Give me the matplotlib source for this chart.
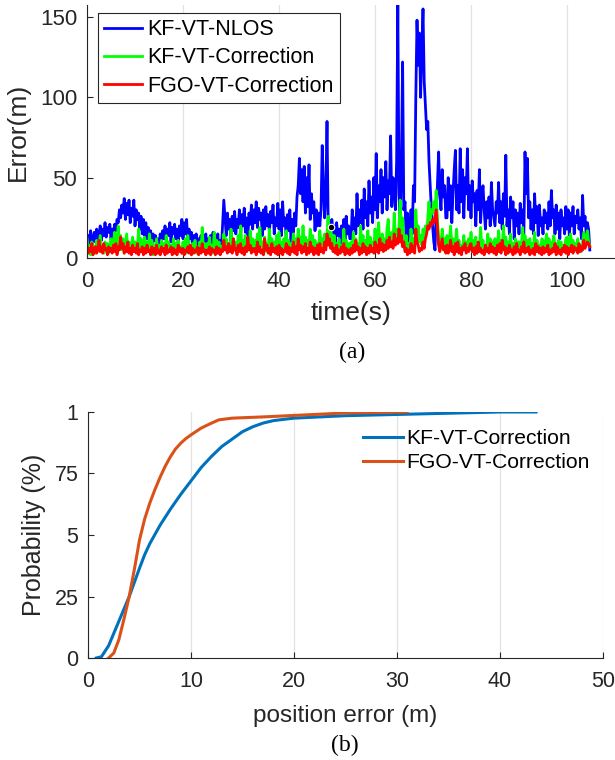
"""Genera la figura de error temporal (a) y la CDF del error de posicion (b)."""

import matplotlib

matplotlib.use("Agg")

import matplotlib.pyplot as plt
import numpy as np


# ── Datos: panel (a), muestreo cada 0.25 s ───────────────────────────────────

PASO_TIEMPO = 0.25

ERROR_KF_NLOS = [
    5, 14, 9, 17, 8, 12, 16, 10, 18, 12, 15, 20, 11, 18, 14, 22, 13, 19, 16, 21,
    12, 18, 15, 21, 17, 24, 22, 30, 25, 33, 28, 37, 24, 34, 27, 36, 22, 31, 26, 36,
    20, 30, 24, 28, 18, 26, 15, 24, 14, 22, 12, 19, 10, 17, 8, 15, 11, 14, 6, 12,
    4, 15, 9, 17, 12, 20, 11, 18, 14, 22, 10, 19, 15, 21, 12, 18, 9, 20, 14, 24,
    12, 22, 15, 24, 9, 18, 12, 16, 7, 14, 10, 15, 5, 12, 8, 14, 6, 11, 9, 15,
    4, 12, 8, 14, 6, 16, 10, 13, 7, 15, 3, 11, 6, 21, 36, 25, 14, 28, 18, 24,
    12, 26, 17, 29, 15, 24, 19, 30, 14, 27, 20, 31, 16, 25, 12, 28, 21, 33, 18, 30,
    22, 35, 19, 31, 24, 28, 14, 30, 18, 32, 20, 27, 16, 29, 22, 33, 15, 25, 20, 34,
    18, 30, 14, 35, 20, 25, 12, 27, 17, 30, 10, 24, 16, 28, 20, 38, 45, 62, 40, 55,
    35, 57, 28, 50, 32, 58, 24, 40, 28, 35, 17, 30, 20, 28, 20, 30, 70, 45, 25, 40,
    85, 20, 15, 12, 24, 16, 20, 10, 22, 14, 18, 8, 20, 12, 24, 10, 26, 15, 20, 12,
    12, 30, 18, 25, 15, 40, 20, 30, 22, 36, 18, 43, 25, 35, 20, 48, 28, 38, 22, 50,
    30, 65, 25, 45, 35, 55, 28, 50, 38, 60, 30, 48, 40, 76, 32, 50, 45, 30, 60, 158,
    40, 20, 60, 122, 30, 35, 10, 28, 5, 20, 30, 15, 45, 35, 100, 148, 120, 140, 100, 130,
    155, 110, 95, 80, 85, 60, 45, 30, 20, 10, 5, 30, 45, 66, 40, 30, 55, 38, 45, 25,
    25, 50, 30, 45, 22, 40, 55, 67, 30, 45, 28, 68, 35, 55, 25, 50, 40, 68, 30, 45,
    25, 48, 35, 40, 20, 42, 30, 55, 22, 38, 45, 30, 18, 35, 25, 38, 20, 47, 30, 25,
    20, 35, 28, 47, 22, 35, 18, 40, 26, 64, 20, 30, 15, 38, 25, 35, 12, 30, 20, 28,
    15, 34, 22, 30, 12, 66, 40, 62, 25, 35, 18, 30, 15, 40, 22, 32, 14, 33, 20, 25,
    15, 30, 22, 28, 18, 35, 20, 42, 25, 30, 15, 33, 18, 28, 12, 30, 20, 25, 15, 32,
    18, 30, 14, 28, 20, 32, 15, 26, 22, 30, 18, 25, 12, 39, 20, 26, 15, 22, 18, 5,
]

ERROR_KF_CORRECCION = [
    12, 4, 8, 2, 10, 5, 7, 3, 11, 4, 9, 14, 5, 8, 3, 10, 6, 9, 3, 7,
    12, 5, 9, 16, 4, 11, 20, 8, 14, 5, 12, 3, 9, 15, 6, 10, 4, 8, 13, 5,
    10, 4, 7, 18, 6, 12, 9, 3, 13, 6, 10, 4, 15, 7, 11, 2, 8, 5, 12, 4,
    8, 3, 11, 5, 9, 3, 14, 6, 10, 4, 8, 3, 12, 5, 9, 3, 11, 4, 7, 3,
    10, 4, 12, 3, 14, 6, 8, 2, 9, 4, 11, 3, 7, 5, 10, 4, 19, 6, 9, 3,
    9, 4, 13, 5, 8, 3, 16, 6, 11, 4, 10, 3, 7, 5, 15, 8, 12, 4, 9, 5,
    18, 7, 12, 5, 10, 4, 14, 6, 20, 8, 11, 5, 14, 4, 9, 6, 17, 7, 12, 5,
    11, 4, 15, 6, 19, 8, 10, 5, 13, 4, 9, 6, 18, 7, 12, 5, 10, 3, 14, 5,
    16, 6, 10, 4, 12, 5, 17, 7, 11, 4, 9, 6, 15, 5, 12, 7, 18, 8, 13, 6,
    20, 8, 13, 5, 11, 7, 18, 6, 14, 5, 11, 4, 9, 6, 17, 8, 12, 6, 15, 9,
    14, 26, 12, 20, 10, 6, 14, 5, 9, 4, 12, 3, 8, 5, 18, 7, 11, 4, 9, 5,
    10, 4, 16, 6, 12, 5, 9, 3, 20, 7, 14, 5, 11, 4, 17, 6, 13, 4, 10, 6,
    18, 7, 14, 22, 10, 6, 15, 8, 12, 5, 18, 24, 10, 7, 16, 9, 28, 12, 18, 10,
    20, 36, 15, 25, 10, 6, 14, 5, 9, 4, 18, 7, 12, 6, 30, 15, 20, 10, 14, 8,
    18, 10, 20, 15, 25, 35, 22, 30, 28, 35, 30, 42, 25, 12, 6, 10, 18, 8, 12, 5,
    14, 5, 10, 20, 8, 12, 4, 9, 18, 6, 11, 4, 8, 5, 14, 6, 10, 4, 12, 5,
    16, 6, 11, 5, 13, 3, 9, 6, 19, 7, 11, 4, 8, 5, 15, 6, 12, 4, 10, 5,
    12, 4, 9, 17, 6, 11, 5, 20, 8, 13, 4, 10, 6, 15, 5, 9, 4, 12, 6, 10,
    10, 4, 8, 19, 7, 14, 5, 11, 4, 12, 6, 9, 3, 16, 6, 11, 5, 8, 4, 12,
    11, 5, 9, 15, 6, 12, 4, 10, 5, 14, 7, 9, 4, 11, 6, 10, 4, 8, 6, 12,
    13, 5, 10, 15, 7, 11, 4, 9, 6, 12, 5, 8, 4, 10, 16, 7, 12, 17, 10, 8,
]

ERROR_FGO_CORRECCION = [
    8, 3, 6, 4, 9, 2, 5, 7, 3, 6, 11, 4, 7, 3, 9, 5, 6, 2, 7, 4,
    6, 3, 8, 4, 9, 2, 7, 5, 13, 6, 9, 3, 7, 4, 10, 3, 6, 2, 8, 4,
    6, 3, 9, 2, 5, 4, 7, 2, 6, 3, 8, 4, 5, 2, 7, 3, 6, 2, 8, 3,
    5, 2, 7, 4, 6, 2, 8, 3, 5, 4, 7, 2, 6, 3, 5, 2, 8, 4, 6, 3,
    6, 2, 5, 4, 7, 3, 8, 2, 6, 3, 5, 4, 7, 2, 6, 3, 9, 4, 5, 2,
    5, 3, 7, 2, 6, 4, 5, 2, 7, 3, 6, 2, 5, 4, 11, 5, 7, 3, 9, 4,
    7, 3, 12, 5, 6, 2, 8, 4, 9, 3, 6, 2, 7, 4, 13, 5, 8, 3, 6, 4,
    6, 2, 10, 4, 7, 3, 5, 2, 12, 5, 8, 3, 6, 2, 9, 4, 6, 3, 7, 2,
    8, 3, 6, 2, 5, 4, 9, 3, 7, 2, 6, 4, 10, 3, 7, 2, 12, 5, 8, 3,
    7, 4, 9, 2, 6, 3, 10, 4, 7, 2, 6, 3, 8, 2, 9, 4, 6, 3, 10, 5,
    15, 8, 12, 6, 9, 4, 6, 3, 8, 2, 5, 3, 7, 4, 9, 2, 6, 3, 5, 2,
    6, 3, 8, 4, 11, 5, 7, 2, 6, 3, 9, 4, 7, 2, 6, 3, 8, 4, 6, 3,
    10, 4, 8, 3, 12, 5, 9, 4, 8, 5, 11, 6, 13, 7, 10, 6, 15, 8, 12, 9,
    18, 10, 14, 7, 10, 4, 6, 2, 5, 3, 9, 4, 7, 3, 18, 10, 8, 4, 6, 5,
    10, 6, 12, 15, 20, 18, 22, 20, 24, 22, 26, 30, 20, 8, 4, 8, 12, 5, 7, 3,
    8, 3, 6, 11, 4, 7, 2, 9, 4, 10, 3, 6, 2, 7, 5, 9, 3, 6, 4, 8,
    9, 4, 6, 2, 7, 3, 10, 4, 6, 3, 5, 2, 8, 4, 6, 3, 9, 4, 7, 3,
    6, 2, 8, 4, 9, 3, 11, 5, 7, 2, 6, 3, 8, 4, 5, 2, 7, 3, 9, 4,
    5, 2, 7, 4, 10, 3, 6, 4, 7, 2, 5, 3, 6, 2, 9, 4, 7, 3, 6, 2,
    7, 3, 6, 4, 8, 2, 5, 3, 6, 4, 9, 2, 7, 3, 5, 2, 6, 4, 8, 3,
    7, 2, 6, 4, 8, 3, 7, 5, 6, 3, 9, 4, 7, 5, 11, 6, 8, 10, 9, 7,
]

# Punto de "data tip" que aparece en la figura original
MARCA_TIEMPO = [50.8]
MARCA_ERROR = [19]

# ── Datos: panel (b), CDF del error ──────────────────────────────────────────

CDF_KF_ERROR = [0.8, 1.3, 2, 3, 4, 5, 5.5, 6, 7, 8, 9, 10, 11, 12, 13, 14,
                15, 16, 17, 18, 20, 25, 30, 35, 40, 43.5]
CDF_KF_PROB = [0, 0.005, 0.05, 0.15, 0.25, 0.365, 0.42, 0.465, 0.54, 0.605,
               0.665, 0.72, 0.775, 0.82, 0.86, 0.89, 0.92, 0.94, 0.955, 0.965,
               0.975, 0.985, 0.99, 0.995, 1.0, 1.0]

CDF_FGO_ERROR = [2.0, 2.5, 3, 3.5, 4, 4.5, 5, 5.5, 6, 6.5, 7, 7.5, 8, 8.5, 9,
                 9.5, 10, 11, 12, 12.7, 14, 17, 20, 25, 31]
CDF_FGO_PROB = [0, 0.02, 0.075, 0.16, 0.25, 0.36, 0.48, 0.565, 0.63, 0.685,
                0.735, 0.78, 0.818, 0.85, 0.873, 0.892, 0.907, 0.935, 0.955,
                0.968, 0.975, 0.98, 0.986, 0.996, 1.0]

TICKS_PROB = [0, 0.25, 0.5, 0.75, 1]
ETIQUETAS_PROB = ["0", "25", "5", "75", "1"]

# ── Estilo ────────────────────────────────────────────────────────────────────

COLOR_EJE = "#262626"
COLOR_REJILLA = "#e3e3e3"
FUENTE = ["Liberation Sans", "DejaVu Sans"]
FUENTE_SERIF = ["Liberation Serif", "DejaVu Serif"]


def _estilo_eje(eje, tam_ticks: float) -> None:
    """Aplica el aspecto tipo MATLAB: caja abierta, ticks hacia dentro, rejilla en x."""
    for lado in ("top", "right"):
        eje.spines[lado].set_visible(False)
    for lado in ("left", "bottom"):
        eje.spines[lado].set_color(COLOR_EJE)
        eje.spines[lado].set_linewidth(0.8)
    eje.tick_params(direction="in", length=4, width=0.8, colors=COLOR_EJE,
                    labelsize=tam_ticks)
    eje.tick_params(axis="x", pad=9)
    eje.tick_params(axis="y", pad=7)
    eje.grid(True, axis="x", color=COLOR_REJILLA, linewidth=0.9)
    eje.set_axisbelow(True)


def _panel_error(figura) -> None:
    """Dibuja el panel (a): error frente al tiempo."""
    eje = figura.add_axes((0.1415, 0.6605, 0.8585, 0.333))
    tiempo = np.arange(len(ERROR_KF_NLOS)) * PASO_TIEMPO

    eje.plot(tiempo, ERROR_KF_NLOS, color="#0000ff", linewidth=2.0, label="KF-VT-NLOS")
    eje.plot(tiempo, ERROR_KF_CORRECCION, color="#00ff00", linewidth=2.0,
             label="KF-VT-Correction")
    eje.plot(tiempo, ERROR_FGO_CORRECCION, color="#ff0000", linewidth=2.0,
             label="FGO-VT-Correction")
    eje.scatter(MARCA_TIEMPO, MARCA_ERROR, s=22, color="black", edgecolor="white",
                linewidth=0.8, zorder=5)

    eje.set_xlim(0, 110)
    eje.set_ylim(0, 157.5)
    eje.set_xticks([0, 20, 40, 60, 80, 100])
    eje.set_yticks([0, 50, 100, 150])
    _estilo_eje(eje, 16)
    eje.set_ylabel("Error(m)", fontsize=19, color=COLOR_EJE, labelpad=7)
    eje.set_xlabel("time(s)", fontsize=19, color=COLOR_EJE, labelpad=7)

    leyenda = eje.legend(
        loc="upper left", bbox_to_anchor=(0.159, 0.983),
        bbox_transform=figura.transFigure, fontsize=15.5, frameon=True,
        fancybox=False, edgecolor=COLOR_EJE, framealpha=1, borderaxespad=0,
        borderpad=0.3, labelspacing=0.33, handlelength=1.75, handletextpad=0.25,
    )
    leyenda.get_frame().set_linewidth(0.8)

    figura.text(0.5725, 1 - 352 / 760, "(a)", ha="center", va="center",
                fontsize=17, family=FUENTE_SERIF)


def _panel_cdf(figura) -> None:
    """Dibuja el panel (b): CDF del error de posicion."""
    eje = figura.add_axes((0.1431, 0.1342, 0.8374, 0.3237))

    eje.plot(CDF_KF_ERROR, CDF_KF_PROB, color="#0072BD", linewidth=2.2,
             label="KF-VT-Correction")
    eje.plot(CDF_FGO_ERROR, CDF_FGO_PROB, color="#D95319", linewidth=2.2,
             label="FGO-VT-Correction")

    eje.set_xlim(0, 50)
    eje.set_ylim(0, 1)
    eje.set_xticks([0, 10, 20, 30, 40, 50])
    eje.set_yticks(TICKS_PROB)
    eje.set_yticklabels(ETIQUETAS_PROB)
    _estilo_eje(eje, 15.5)
    eje.set_ylabel("Probability (%)", fontsize=18, color=COLOR_EJE, labelpad=6)
    eje.set_xlabel("position error (m)", fontsize=17.5, color=COLOR_EJE, labelpad=10)

    eje.legend(
        loc="upper left", bbox_to_anchor=(363 / 615, 1 - 429 / 760),
        bbox_transform=figura.transFigure, fontsize=15.2, frameon=False,
        borderaxespad=0, borderpad=0, labelspacing=0.24, handlelength=1.9,
        handletextpad=0.15,
    )

    figura.text(0.561, 1 - 745 / 760, "(b)", ha="center", va="center",
                fontsize=17, family=FUENTE_SERIF)


def main() -> None:
    """Construye la figura completa y la guarda en out.png."""
    plt.rcParams["font.family"] = FUENTE
    figura = plt.figure(figsize=(6.15, 7.6), dpi=100)
    _panel_error(figura)
    _panel_cdf(figura)
    figura.savefig("out.png", dpi=100)
    plt.close(figura)


if __name__ == "__main__":
    main()
